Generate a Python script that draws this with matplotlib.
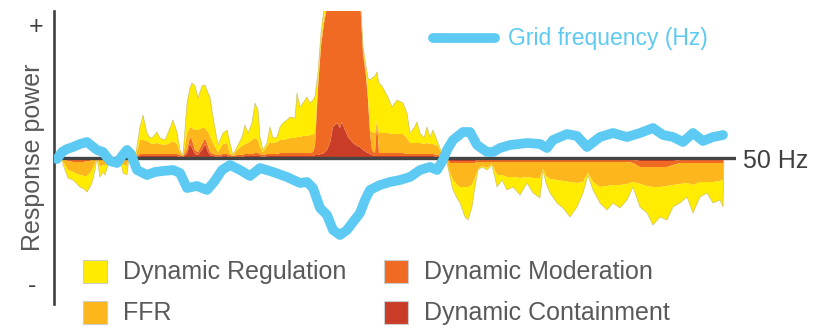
import numpy as np
import matplotlib
matplotlib.use("Agg")
import matplotlib.pyplot as plt
from matplotlib.patches import Rectangle
from matplotlib.lines import Line2D

plt.rcParams['font.family'] = ['Liberation Sans', 'DejaVu Sans']

# time axis of the service response (s), common to the four stacked services
t_s = [0, 5, 8, 11, 16, 20, 23, 27, 30, 33, 35, 38, 40, 43, 46, 48, 51, 54, 63, 66, 70, 72, 78,
       81, 83, 86, 90, 93, 96, 100, 103, 108, 113,
       116, 120, 123, 126, 130, 133, 135, 138, 141, 145,
       148, 151, 153, 156, 161, 166, 170, 173, 176, 180,
       185, 188, 191, 195, 198, 201, 203, 206, 210, 213,
       216, 220, 223, 226, 230, 233, 238, 240, 243, 246,
       250, 253, 256, 258, 261, 264, 267, 270, 273, 276,
       280, 283, 285, 288, 291, 296, 300, 303, 306, 309,
       311, 313, 315, 318, 320, 322, 325, 331, 335, 340,
       346, 350, 353, 357, 360, 363, 367, 370, 373, 376,
       381, 385, 388,
       390, 393, 396, 400, 403, 408, 411, 415, 418, 421,
       425, 430, 435, 440, 445, 450, 456, 463, 470, 476,
       483, 486, 489, 493, 500, 506, 513, 520, 526, 531,
       536, 543, 550, 556, 563, 570, 576, 583, 590, 596,
       603, 610, 616, 623, 630, 636, 643, 650, 656, 663,
       666, 667]

containment = [0, 0, -1, -1, -2, -2, -2, -2, -2, -1, -1, 0, 0, 0, 0, 0, 0, 0, 0, 0, 0, 0, 0,
               1, 2, 2, 2, 2, 2, 2, 2, 2, 2,
               2, 2, 1, 1, 4, 14, 10, 4, 3, 8,
               14, 6, 3, 2, 1, 2, 2, 1, 1, 1,
               1, 2, 2, 2, 2, 2, 2, 1, 2, 2,
               2, 2, 2, 2, 2, 2, 2, 2, 2, 2,
               2, 2, 2, 3, 3, 4, 5, 8, 15, 31,
               35, 30, 36, 28, 21, 15, 12, 11, 8, 6,
               5, 4, 3, 2, 2, 2, 2, 2, 2, 2,
               2, 2, 2, 2, 2, 2, 2, 2, 2, 2,
               1, 1, 0,
               -1, -3, -3, -3, -3, -3, -3, -3, -3, -2,
               -2, -2, -2, -2, -2, -2, -2, -2, -2, -2,
               -2, -2, -2, -2, -2, -2, -2, -2, -2, -2,
               -2, -2, -2, -2, -2, -2, -2, -3, -3, -3,
               -3, -3, -3, -2, -2, -2, -2, -2, -2, -2,
               -2, 0]

moderation = [0, -1, -1, -2, -2, -2, -2, -2, -1, -2, -1, -1, 0, -1, -1, -1, -1, 0, 0, -1, -1, 0, 0,
              2, 2, 2, 2, 2, 2, 2, 2, 2, 2,
              2, 2, 2, 1, 4, 7, 8, 4, 3, 6,
              6, 6, 3, 2, 2, 2, 2, 2, 1, 2,
              2, 2, 2, 2, 3, 3, 2, 2, 2, 2,
              2, 2, 3, 3, 3, 3, 3, 3, 3, 3,
              3, 3, 4, 9, 67, 108, 130, 142, 145, 129,
              125, 130, 124, 132, 139, 145, 148, 149, 97, 76,
              53, 21, 5, 3, 34, 3, 3, 3, 3, 3,
              3, 2, 2, 2, 2, 2, 2, 2, 2, 2,
              2, 1, 0,
              -1, -2, -2, -2, -2, -2, -2, -2, -2, -2,
              -2, -2, -2, -2, -2, -2, -2, -2, -2, -2,
              -2, -2, -2, -2, -2, -2, -2, -2, -2, -2,
              -2, -2, -2, -2, -2, -2, -3, -6, -6, -6,
              -6, -6, -4, -3, -3, -3, -3, -3, -3, -3,
              -3, 0]

ffr = [0, -1, -5, -9, -10, -12, -13, -14, -15, -12, -10, -5, 0, -8, -6, -7, -2, 0, 0, -6, -7, 0, 0,
       7, 14, 14, 13, 11, 10, 11, 10, 9, 11,
       13, 10, 3, 0, 17, 10, 12, 20, 22, 16,
       10, 14, 16, 11, 3, 10, 11, 2, 1, 5,
       9, 10, 11, 14, 15, 13, 7, 3, 8, 12,
       11, 12, 13, 13, 14, 15, 15, 16, 16, 17,
       17, 18, 17, 14, 5, 6, 5, 5, 5, 5,
       5, 5, 5, 5, 5, 5, 5, 5, 3, 4,
       4, 3, 18, 20, 2, 20, 20, 20, 19, 19,
       19, 16, 11, 11, 11, 11, 10, 11, 10, 10,
       9, 2, 0,
       -2, -10, -17, -22, -24, -24, -24, -22, -15, -7,
       -4, -6, -2, -13, -13, -15, -15, -16, -15, -16,
       -16, -7, -14, -17, -18, -19, -20, -21, -20, -11,
       -20, -25, -24, -23, -23, -22, -19, -17, -19, -20,
       -20, -19, -20, -21, -20, -22, -19, -19, -19, -18,
       -17, 0]

regulation = [0, -1, -5, -8, -8, -10, -12, -13, -16, -14, -13, -6, 0, -10, -7, -9, -4, 0, 0, -8, -9, 0, 0,
              8, 13, 25, 8, 5, 7, 11, 6, 5, 15,
              21, 12, 2, 1, 30, 39, 45, 44, 32, 42,
              43, 39, 39, 26, 7, 11, 13, 10, 0, 3,
              9, 19, 10, 17, 35, 30, 10, 2, 3, 15,
              5, 5, 13, 17, 19, 21, 20, 44, 30, 33,
              39, 32, 35, 36, 10, 7, 10, 5, 5, 5,
              5, 5, 5, 5, 5, 5, 5, 5, 4, 6,
              18, 50, 54, 57, 48, 50, 47, 36, 27, 34,
              31, 25, 10, 15, 21, 10, 6, 16, 7, 14,
              3, 1, 0,
              -1, -4, -10, -13, -16, -30, -33, -22, -9, -1,
              -1, -2, -1, -12, -5, -13, -10, -17, -6, -15,
              -20, -1, -7, -14, -23, -27, -35, -24, -11, -2,
              -8, -16, -24, -18, -23, -16, -5, -23, -27, -38,
              -30, -34, -22, -19, -14, -28, -15, -11, -21, -19,
              -27, 0]

# grid frequency trace
freq_t = [0, 5, 10, 16, 23, 30, 35, 40, 46, 53, 60, 65, 70, 74, 80, 90, 98, 106, 116, 123,
          130, 140, 150, 157, 165, 173, 183, 193, 203, 216, 230, 243, 250, 256, 263, 270,
          276, 283, 290, 296, 303, 308, 313, 323, 333, 343, 353, 363, 373, 380, 386, 390,
          396, 406, 413, 420, 430, 436, 443, 453, 470, 483, 490, 496, 510, 520, 530, 543,
          556, 570, 583, 596, 606, 616, 626, 636, 646, 656, 666]
freq_hz = [49.999, 50.006, 50.009, 50.011, 50.014, 50.016, 50.012, 50.008, 50.006, 49.997,
           49.995, 50.002, 50.008, 50.004, 49.988, 49.983, 49.986, 49.987, 49.988, 49.985,
           49.970, 49.972, 49.968, 49.976, 49.988, 49.993, 49.988, 49.982, 49.990, 49.986,
           49.981, 49.975, 49.976, 49.970, 49.950, 49.943, 49.928, 49.923, 49.928, 49.936,
           49.945, 49.958, 49.968, 49.973, 49.976, 49.978, 49.981, 49.988, 49.991, 49.988,
           49.998, 50.008, 50.018, 50.026, 50.026, 50.013, 50.006, 50.006, 50.010, 50.013,
           50.015, 50.014, 50.010, 50.018, 50.024, 50.022, 50.011, 50.021, 50.025, 50.021,
           50.025, 50.030, 50.023, 50.021, 50.016, 50.025, 50.017, 50.021, 50.023]

services = ['Dynamic Regulation', 'Dynamic Moderation', 'FFR', 'Dynamic Containment']
colours = {'Dynamic Regulation': '#FFEC00', 'FFR': '#FDB71C',
           'Dynamic Moderation': '#F06A23', 'Dynamic Containment': '#C93D28'}
blue = '#5CCAF2'
txt_grey = '#595959'

W, H = 825, 328
fig = plt.figure(figsize=(W / 100, H / 100), dpi=100)
fig.patch.set_facecolor('white')

# axes box in pixels: x 54.5..735.5, y 11..304
ax = fig.add_axes([54.5 / W, (H - 304) / H, (735.5 - 54.5) / W, (304 - 11) / H])
ax.stackplot(t_s, containment, moderation, ffr, regulation,
             colors=[colours['Dynamic Containment'], colours['Dynamic Moderation'],
                     colours['FFR'], colours['Dynamic Regulation']],
             linewidth=0)
total = np.array(containment) + np.array(moderation) + np.array(ffr) + np.array(regulation)
ax.plot(t_s, total, color='#b8ad70', lw=0.5, alpha=0.7)
ax.axhline(0, color='#444444', lw=2.4, zorder=5)
ax.set_xlim(-2.5, 678.5)
ax.set_ylim(-146, 147)
for s in ['top', 'right', 'bottom']:
    ax.spines[s].set_visible(False)
ax.spines['left'].set_color('#404040')
ax.spines['left'].set_linewidth(1.9)
ax.set_xticks([])
ax.set_yticks([])

ax2 = ax.twinx()
ax2.plot(freq_t, freq_hz, color=blue, lw=7, solid_capstyle='round', solid_joinstyle='round', zorder=6)
ax2.set_ylim(50 - 0.146, 50 + 0.147)
for s in ax2.spines.values():
    s.set_visible(False)
ax2.set_yticks([])

# annotations
fig.text(36 / W, 1 - 27 / H, '+', fontsize=18, color='#404040', ha='center', va='center')
fig.text(32 / W, 1 - 286 / H, '-', fontsize=18, color='#404040', ha='center', va='center')
fig.text(33 / W, 1 - 157 / H, 'Response power', fontsize=18, color=txt_grey,
         rotation=90, ha='center', va='center')
fig.text(743 / W, 1 - 161 / H, '50 Hz', fontsize=18, color='#404040', ha='left', va='center')

# frequency legend
fig.add_artist(Line2D([433 / W, 495 / W], [1 - 38 / H, 1 - 38 / H], color=blue, lw=7,
                      solid_capstyle='round', transform=fig.transFigure))
fig.text(508 / W, 1 - 38 / H, 'Grid frequency (Hz)', fontsize=16.5, color=blue,
         ha='left', va='center')

# service legend
legend_pos = {'Dynamic Regulation': (83, 260), 'FFR': (83, 301),
              'Dynamic Moderation': (384, 260), 'Dynamic Containment': (384, 301)}
for name in services:
    x0, y0 = legend_pos[name]
    fig.add_artist(Rectangle((x0 / W, 1 - (y0 + 23) / H), 24 / W, 23 / H,
                             facecolor=colours[name], edgecolor='#cccccc', lw=0.8,
                             transform=fig.transFigure))
    fig.text((x0 + 40) / W, 1 - (y0 + 12) / H, name, fontsize=18, color=txt_grey,
             ha='left', va='center')

fig.savefig('out.png', dpi=100)
